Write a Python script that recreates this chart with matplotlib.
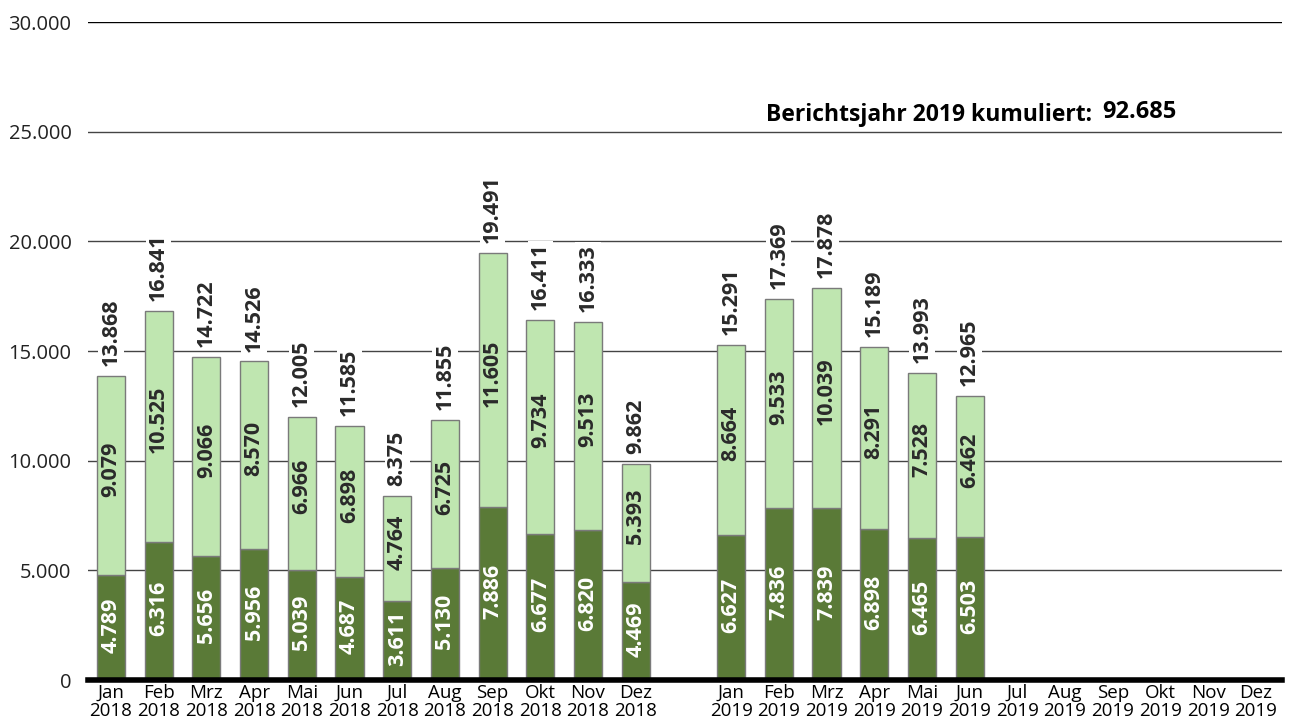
import numpy as np
import matplotlib.pyplot as plt

months = ['Jan', 'Feb', 'Mrz', 'Apr', 'Mai', 'Jun', 'Jul', 'Aug', 'Sep', 'Okt', 'Nov', 'Dez']
years = ['2018', '2019']

# werte 2018 / 2019 (dunkel = unten, hell = oben)
dark_2018 = [4789, 6316, 5656, 5956, 5039, 4687, 3611, 5130, 7886, 6677, 6820, 4469]
light_2018 = [9079, 10525, 9066, 8570, 6966, 6898, 4764, 6725, 11605, 9734, 9513, 5393]
dark_2019 = [6627, 7836, 7839, 6898, 6465, 6503]
light_2019 = [8664, 9533, 10039, 8291, 7528, 6462]
cumulated_2019 = 92685


def fmt(v):
    return f'{v:,}'.replace(',', '.')


plt.rcParams['font.family'] = ['Open Sans', 'DejaVu Sans']

fig = plt.figure(figsize=(12.95, 7.27), dpi=100)
ax = fig.add_axes([0.068, 0.0646, 0.922, 0.9051])

x18 = np.arange(12)
x19 = np.arange(12) + 13
dark_col = '#5a7a37'
light_col = '#bfe6b0'
edge_col = '#7a7a7a'
w = 0.59
lbl_size = 15.5

for xs, dark, light in [(x18, dark_2018, light_2018), (x19[:len(dark_2019)], dark_2019, light_2019)]:
    dark = np.array(dark)
    light = np.array(light)
    ax.bar(xs, dark, width=w, color=dark_col, edgecolor=edge_col, linewidth=1, zorder=3)
    ax.bar(xs, light, width=w, bottom=dark, color=light_col, edgecolor=edge_col, linewidth=1, zorder=3)
    for xi, d, l in zip(xs, dark, light):
        ax.text(xi, d / 2 + 100, fmt(d), rotation=90, ha='center', va='center',
                color='white', fontsize=lbl_size, fontweight='bold', zorder=4)
        ax.text(xi, d + l / 2 + 300, fmt(l), rotation=90, ha='center', va='center',
                color='#2a2a2a', fontsize=lbl_size, fontweight='bold', zorder=4)
        ax.text(xi, d + l + 450, fmt(d + l), rotation=90, ha='center', va='bottom',
                color='#2a2a2a', fontsize=lbl_size, fontweight='bold', zorder=4,
                bbox=dict(facecolor='white', edgecolor='none', pad=1.5))

# achsen
ax.set_xlim(-0.48, 24.55)
ax.set_ylim(0, 30000)
yt = np.arange(0, 30001, 5000)
ax.set_yticks(yt)
ax.set_yticklabels([fmt(v) for v in yt], fontsize=14.5, color='#222222')
ax.set_xticks(np.concatenate([x18, x19]))
ax.set_xticklabels([f'{m}\n{y}' for y in years for m in months], fontsize=13.5, linespacing=1.0)
ax.tick_params(length=0, pad=3)
ax.tick_params(axis='y', pad=12)
for v in yt[1:]:
    ax.axhline(v, color='#000000' if v == 30000 else '#444444', linewidth=1, zorder=1)
ax.axhline(0, color='black', linewidth=4, zorder=5, clip_on=False)
for s in ax.spines.values():
    s.set_visible(False)

ax.text(0.568, 25750, 'Berichtsjahr 2019 kumuliert:', transform=ax.get_yaxis_transform(),
        fontsize=16.5, fontweight='bold', va='center', ha='left', color='black')
ax.text(0.849, 25900, fmt(cumulated_2019), transform=ax.get_yaxis_transform(),
        fontsize=17, fontweight='bold', va='center', ha='left', color='black')

fig.savefig('out.png', dpi=100)
